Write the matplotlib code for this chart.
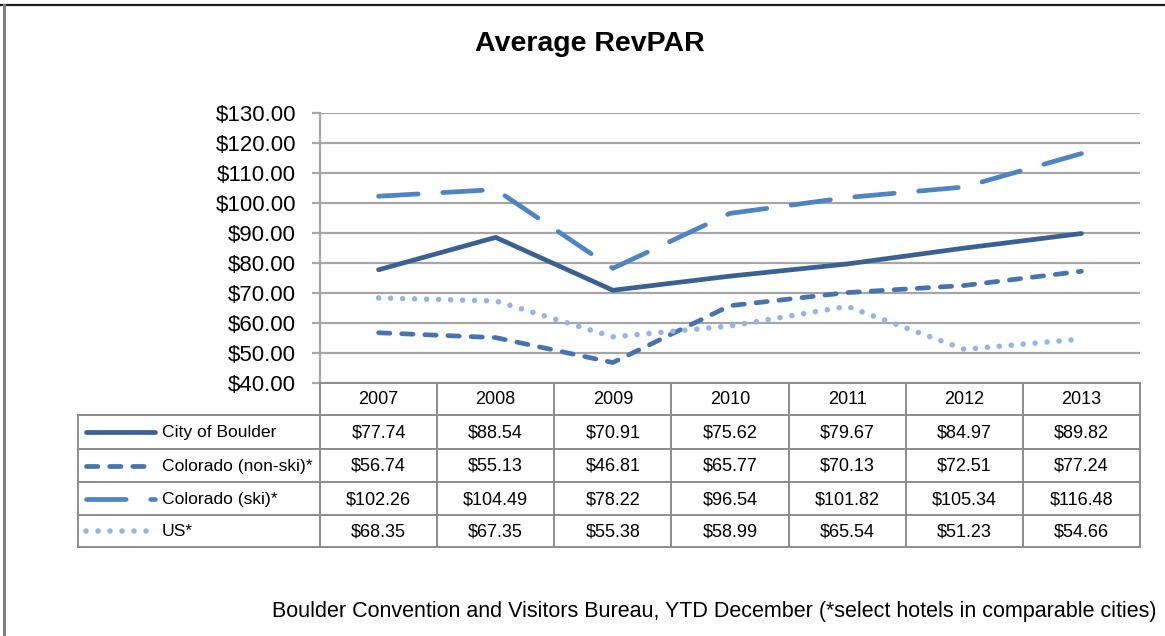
import matplotlib.pyplot as plt
from matplotlib.lines import Line2D

years = ['2007', '2008', '2009', '2010', '2011', '2012', '2013']
series_names = ['City of Boulder', 'Colorado (non-ski)*', 'Colorado (ski)*', 'US*']
boulder = [77.74, 88.54, 70.91, 75.62, 79.67, 84.97, 89.82]
co_nonski = [56.74, 55.13, 46.81, 65.77, 70.13, 72.51, 77.24]
co_ski = [102.26, 104.49, 78.22, 96.54, 101.82, 105.34, 116.48]
us = [68.35, 67.35, 55.38, 58.99, 65.54, 51.23, 54.66]
y_ticks = [40, 50, 60, 70, 80, 90, 100, 110, 120, 130]

title = 'Average RevPAR'
source = 'Boulder Convention and Visitors Bureau, YTD December (*select hotels in comparable cities)'

W, H = 1165, 636
plt.rcParams['font.family'] = ['Liberation Sans', 'DejaVu Sans']

# styles per series
styles = [
    dict(color='#3B6192', lw=3.4, ls='-'),
    dict(color='#4674B0', lw=3.4, ls=(0, (2.4, 2.5))),
    dict(color='#4F84C2', lw=3.4, ls=(0, (8.4, 5.2))),
    dict(color='#95B5E2', lw=4.0, ls=(0, (0.01, 2.15))),
]
values = [boulder, co_nonski, co_ski, us]

# layout in pixels
L, R, T, B = 320, 1140, 113, 383
grid_c = '#A6A6A6'
fs_tab = 13

fig = plt.figure(figsize=(W / 100, H / 100), dpi=100)
ax = fig.add_axes([L / W, 1 - B / H, (R - L) / W, (B - T) / H])
n = len(years)
x = list(range(n))
for vals, st in zip(values, styles):
    ax.plot(x, vals, color=st['color'], lw=st['lw'], linestyle=st['ls'],
            dash_capstyle='round', solid_capstyle='round', zorder=3)
ax.set_xlim(-0.5, n - 0.5)
ax.set_ylim(40, 130)
ax.set_yticks(y_ticks)
ax.set_yticklabels(['${:.2f}'.format(v) for v in y_ticks], fontsize=16)
ax.set_xticks([])
ax.yaxis.grid(True, color=grid_c, lw=1.6)
ax.set_axisbelow(True)
for s in ['top', 'right', 'bottom']:
    ax.spines[s].set_visible(False)
ax.spines['left'].set_color(grid_c)
ax.spines['left'].set_linewidth(1.6)
ax.tick_params(axis='y', length=5.8, width=1.6, color=grid_c, pad=11.5)

# overlay in pixel coordinates for table, legend keys and texts
ov = fig.add_axes([0, 0, 1, 1], facecolor='none')
ov.set_xlim(0, W)
ov.set_ylim(H, 0)
ov.axis('off')

col_w = (R - L) / n
tab_left = 78
row_edges = [B, 415, 449, 482, 515, 547]
lc = '#8C8C8C'
lw = 1.4
# horizontal lines
ov.plot([L, R], [B, B], color=lc, lw=lw)
for yy in row_edges[1:]:
    ov.plot([tab_left, R], [yy, yy], color=lc, lw=lw)
# vertical lines
ov.plot([tab_left, tab_left], [row_edges[1], row_edges[-1]], color=lc, lw=lw)
for i in range(n + 1):
    xx = L + i * col_w
    ov.plot([xx, xx], [B, row_edges[-1]], color=lc, lw=lw)

# header
for i, yr in enumerate(years):
    ov.text(L + (i + 0.5) * col_w, (row_edges[0] + row_edges[1]) / 2 + 1, yr,
            ha='center', va='center', fontsize=fs_tab)

# rows
for r, (name, vals, st) in enumerate(zip(series_names, values, styles)):
    yc = (row_edges[r + 1] + row_edges[r + 2]) / 2
    ov.add_line(Line2D([86, 155], [yc, yc], color=st['color'], lw=st['lw'],
                       linestyle=st['ls'], dash_capstyle='round',
                       solid_capstyle='round'))
    ov.text(162, yc + 1, name, ha='left', va='center', fontsize=12.6)
    for i, v in enumerate(vals):
        ov.text(L + (i + 0.5) * col_w, yc + 1, '${:.2f}'.format(v),
                ha='center', va='center', fontsize=fs_tab)

ov.text(590, 44, title, ha='center', va='center', fontsize=20.5, fontweight='bold')
ov.text(1157, 612, source, ha='right', va='center', fontsize=15.5)

# outer frame: black top edge, grey left edge
ov.plot([0, W], [5, 5], color='#1A1A1A', lw=1.6)
ov.plot([4, 4], [5, H], color='#808080', lw=2.2)

fig.savefig('out.png', dpi=100)
